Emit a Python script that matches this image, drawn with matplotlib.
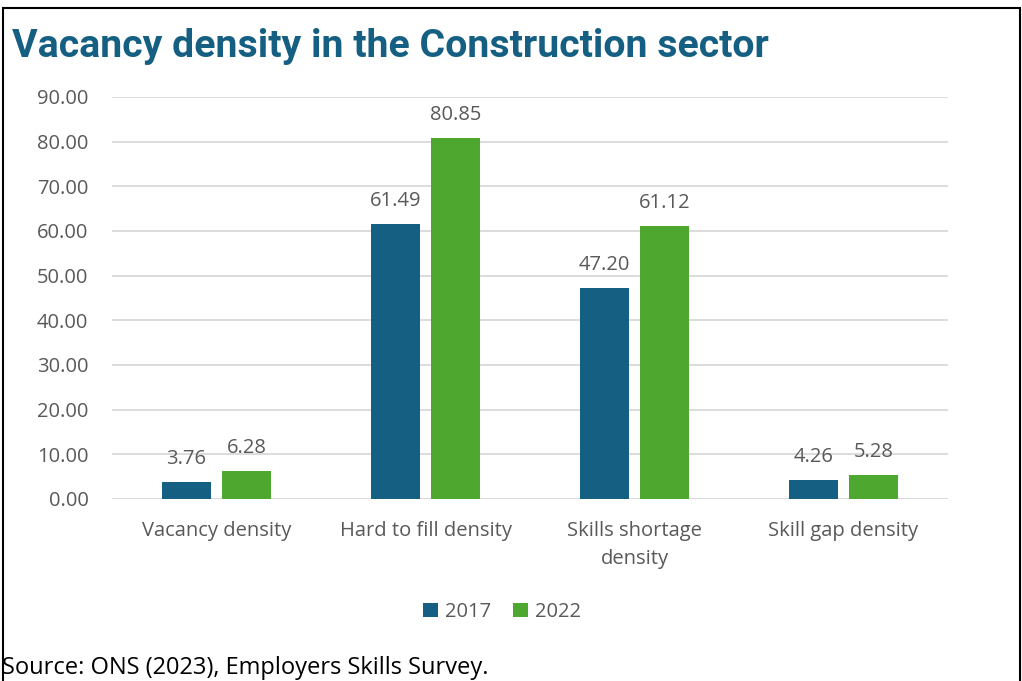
import matplotlib
matplotlib.use("Agg")
import matplotlib.pyplot as plt
from matplotlib.patches import Rectangle
import numpy as np
from matplotlib import font_manager

categories = ["Vacancy density", "Hard to fill density", "Skills shortage\ndensity", "Skill gap density"]
series_names = ["2017", "2022"]
values_2017 = [3.76, 61.49, 47.20, 4.26]
values_2022 = [6.28, 80.85, 61.12, 5.28]
yticks = [0, 10, 20, 30, 40, 50, 60, 70, 80, 90]

BLUE = "#156082"
GREEN = "#4EA72E"
GREY = "#595959"

avail = {f.name for f in font_manager.fontManager.ttflist}
title_font = "Liberation Sans Narrow" if "Liberation Sans Narrow" in avail else "Roboto"
base_font = "Open Sans" if "Open Sans" in avail else "DejaVu Sans"
plt.rcParams['font.family'] = [base_font, 'DejaVu Sans']

FS = 14.5

W, H = 1022, 681
fig = plt.figure(figsize=(W / 100, H / 100), dpi=100)
ax = fig.add_axes([112 / W, 1 - 499 / H, (948 - 112) / W, (499 - 97) / H])

x = np.arange(len(categories))
bw = 0.23
off = 0.1435
b1 = ax.bar(x - off, values_2017, bw, color=BLUE, label=series_names[0], zorder=3)
b2 = ax.bar(x + off, values_2022, bw, color=GREEN, label=series_names[1], zorder=3)
for bars, vals in ((b1, values_2017), (b2, values_2022)):
    for rect, v in zip(bars, vals):
        ax.annotate(f"{v:.2f}", (rect.get_x() + rect.get_width() / 2, v),
                    xytext=(0, 9.5), textcoords="offset points", ha="center", va="bottom",
                    fontsize=FS, color=GREY)

ax.set_xlim(-0.5, len(categories) - 0.5)
ax.set_ylim(0, 90)
ax.set_yticks(yticks)
ax.set_yticklabels([f"{t:.2f}" for t in yticks], fontsize=FS, color=GREY)
ax.set_xticks(x)
ax.set_xticklabels(categories, fontsize=FS, color=GREY, linespacing=1.5)
ax.tick_params(axis="both", length=0)
ax.tick_params(axis="y", pad=17)
ax.tick_params(axis="x", pad=16)
ax.grid(axis="y", color="#D9D9D9", linewidth=1.3, zorder=0)
for s in ax.spines.values():
    s.set_visible(False)
ax.axhline(0, color="#D9D9D9", linewidth=1.3, zorder=2)

leg = fig.legend(handles=[b1, b2], labels=series_names, loc="center",
                 bbox_to_anchor=(502 / W, 1 - 612 / H), ncol=2, frameon=False,
                 fontsize=FS, handlelength=0.75, handleheight=0.75, columnspacing=1.1,
                 handletextpad=0.35)
for t in leg.get_texts():
    t.set_color(GREY)

fig.text(12 / W, 1 - 57 / H, "Vacancy density in the Construction sector",
         fontsize=28.3, fontweight="bold", color=BLUE, family=[title_font, 'DejaVu Sans'],
         ha="left", va="baseline")
fig.text(2 / W, 1 - 668 / H, "Source: ONS (2023), Employers Skills Survey.",
         fontsize=17, color="black", ha="left", va="center")

fig.add_artist(Rectangle((3 / W, -0.1), (1020 - 3) / W, 1.1 - 8 / H,
                         transform=fig.transFigure, fill=False, edgecolor="black",
                         linewidth=1.5, clip_on=False))

fig.savefig("out.png", dpi=100)
